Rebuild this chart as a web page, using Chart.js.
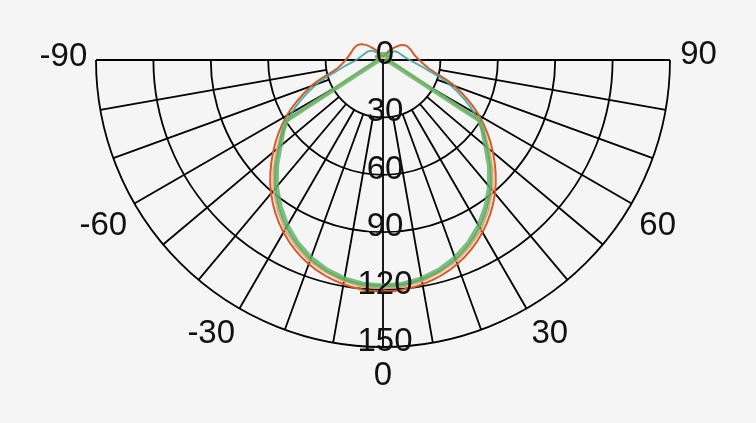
<!DOCTYPE html>
<html>
<head>
<meta charset="utf-8">
<script src="https://cdn.jsdelivr.net/npm/chart.js@4.4.1/dist/chart.umd.min.js"></script>
<style>
  html, body { margin: 0; padding: 0; background: #f5f5f5; }
  #wrap { width: 756px; height: 423px; }
</style>
</head>
<body>
<div id="wrap"><canvas id="polarChart" width="756" height="423"></canvas></div>
<script>
  // Grid values
  const ringValues = [30, 60, 90, 120, 150];
  const radialLabels = [0, 30, 60, 90, 120, 150];
  const angleLabels = [-90, -60, -30, 0, 30, 60, 90];
  const spokeAngles = [-80, -70, -60, -50, -40, -30, -20, -10, 10, 20, 30, 40, 50, 60, 70, 80];

  // Curves sampled every 10 degrees (0 = straight down)
  const arcAngles = [-180, -170, -160, -150, -140, -130, -120, -110, -100, -90, -80, -70, -60, -50, -40, -30, -20, -10,
    0, 10, 20, 30, 40, 50, 60, 70, 80, 90, 100, 110, 120, 130, 140, 150, 160, 170, 180];
  const redValues = [2, 2, 3, 5, 8, 12.5, 15.5, 16.5, 17.5, 19.5, 24, 40, 58, 75, 91, 104, 113.5, 119,
    121, 119, 113.5, 104, 91, 75, 58, 40, 24, 19, 16.5, 15.5, 14.5, 12, 8, 5, 3, 2, 2];
  const tealValues = [1.5, 1.5, 2, 3, 5, 7.5, 9, 10, 11.5, 14, 21, 37, 55, 71, 87.5, 101, 111, 116.5,
    118, 116.5, 111, 101, 87.5, 71, 55, 37, 21, 14, 11, 9.5, 8.5, 7, 5, 3, 2, 1.5, 1.5];

  // Curves with no samples between 58 and 90 degrees
  const coarseAngles = [-180, -150, -120, -90, -58, -55, -50, -45, -40, -35, -30, -25, -20, -15, -10, -5,
    0, 5, 10, 15, 20, 25, 30, 35, 40, 45, 50, 55, 58, 90, 120, 150, 180];
  const orangeValues = [1, 2, 4, 3, 58.5, 64.5, 72.5, 81, 89, 96, 102.5, 107.5, 112, 115, 117.5, 119,
    119.5, 119, 117.5, 115, 112, 107.5, 102.5, 96, 89, 81, 72.5, 64.5, 58.5, 3, 4, 2, 1];
  const greenValues = [3, 3.5, 3.5, 2, 59.5, 63.5, 70, 78.5, 86.5, 93.5, 100, 105.5, 110, 113.5, 116, 117.5,
    118, 117.5, 116, 113.5, 110, 105.5, 100, 93.5, 86.5, 78.5, 70, 63.5, 59.5, 2, 3.5, 3.5, 3];

  // polar -> x/y values for the linear scales
  function toXY(angles, values) {
    return angles.map((a, i) => {
      const t = a * Math.PI / 180;
      return { x: values[i] * Math.sin(t), y: -values[i] * Math.cos(t) };
    });
  }

  const labelFont = '33px "Liberation Sans", Arial, sans-serif';
  // small pixel nudges for the angle labels
  const angleLabelNudge = { '-90': [0, -3], '-60': [-3, 6], '-30': [-12, -3], '0': [0, -4], '30': [7, -3], '60': [-2, 6], '90': [-4, -5] };

  // Draws the half-circle grid behind the curves
  const polarGrid = {
    id: 'polarGrid',
    beforeDatasetsDraw(chart) {
      const { ctx, scales: { x, y } } = chart;
      const cx = x.getPixelForValue(0);
      const cy = y.getPixelForValue(0);
      const u = x.getPixelForValue(1) - cx;
      const outer = ringValues[ringValues.length - 1];

      ctx.save();
      ctx.strokeStyle = '#000';
      ctx.lineWidth = 1.8;

      ringValues.forEach((r) => {
        ctx.beginPath();
        ctx.arc(cx, cy, r * u, 0, Math.PI);
        ctx.stroke();
      });

      // horizon and vertical axis
      ctx.beginPath();
      ctx.moveTo(cx - outer * u, cy);
      ctx.lineTo(cx + outer * u, cy);
      ctx.moveTo(cx, cy);
      ctx.lineTo(cx, cy + outer * u);
      ctx.stroke();

      // spokes start at the first ring
      spokeAngles.forEach((a) => {
        const t = a * Math.PI / 180;
        ctx.beginPath();
        ctx.moveTo(cx + ringValues[0] * u * Math.sin(t), cy + ringValues[0] * u * Math.cos(t));
        ctx.lineTo(cx + outer * u * Math.sin(t), cy + outer * u * Math.cos(t));
        ctx.stroke();
      });
      ctx.restore();
    },
    afterDatasetsDraw(chart) {
      const { ctx, scales: { x, y } } = chart;
      const cx = x.getPixelForValue(0);
      const cy = y.getPixelForValue(0);
      const u = x.getPixelForValue(1) - cx;

      ctx.save();
      ctx.font = labelFont;
      ctx.fillStyle = '#111';
      ctx.textAlign = 'center';
      ctx.textBaseline = 'middle';

      radialLabels.forEach((v) => {
        ctx.fillText(String(v), cx + 2, cy + v * u - 5);
      });

      angleLabels.forEach((a) => {
        const t = a * Math.PI / 180;
        const r = 167 * u;
        const [nx, ny] = angleLabelNudge[String(a)];
        ctx.fillText(String(a), cx + r * Math.sin(t) + nx, cy + r * Math.cos(t) + ny);
      });
      ctx.restore();
    }
  };

  const ctx = document.getElementById('polarChart').getContext('2d');
  const polarChart = new Chart(ctx, {
    type: 'scatter',
    data: {
      datasets: [
        {
          label: 'C180',
          data: toXY(coarseAngles, greenValues),
          borderColor: 'rgba(92, 176, 98, 0.8)',
          borderWidth: 4.5,
          showLine: true,
          pointRadius: 0,
          tension: 0,
        },
        {
          label: 'C90',
          data: toXY(coarseAngles, orangeValues),
          borderColor: '#e9a05c',
          borderWidth: 1.8,
          showLine: true,
          pointRadius: 0,
          tension: 0,
        },
        {
          label: 'C270',
          data: toXY(arcAngles, tealValues),
          borderColor: 'rgba(58, 164, 158, 0.85)',
          borderWidth: 2,
          showLine: true,
          pointRadius: 0,
          tension: 0.3,
        },
        {
          label: 'C0',
          data: toXY(arcAngles, redValues),
          borderColor: '#d65a2c',
          borderWidth: 2,
          showLine: true,
          pointRadius: 0,
          tension: 0.3,
        },
      ],
    },
    options: {
      responsive: false,
      animation: false,
      layout: { padding: 0 },
      plugins: {
        legend: { display: false },
        tooltip: { enabled: false },
      },
      scales: {
        x: { type: 'linear', min: -200.17, max: 194.95, display: false },
        y: { type: 'linear', min: -189.72, max: 31.36, display: false },
      },
    },
    plugins: [polarGrid],
  });
</script>
</body>
</html>
